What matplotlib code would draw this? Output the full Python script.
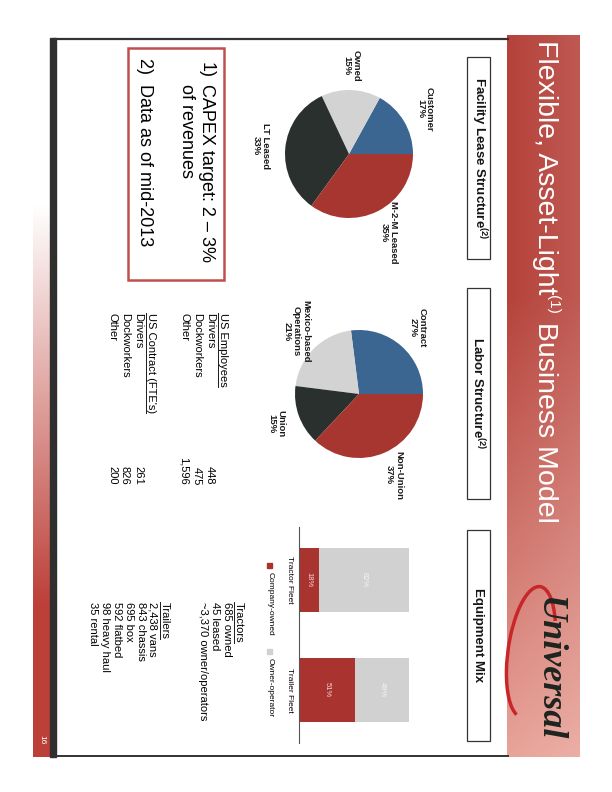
import numpy as np
import matplotlib
matplotlib.use('Agg')
import matplotlib.pyplot as plt
from matplotlib.patches import Rectangle, Arc

plt.rcParams['font.family'] = ['Liberation Sans', 'DejaVu Sans']
plt.rcParams['mathtext.fontset'] = 'custom'
plt.rcParams['mathtext.rm'] = 'Liberation Sans'
plt.rcParams['mathtext.bf'] = 'Liberation Sans:bold'
NARROW = ['Liberation Sans Narrow', 'Liberation Sans']

# ---- data ----
facility_labels = ['Customer', 'Owned', 'LT Leased', 'M-2-M Leased']
facility_pct = [17, 15, 33, 35]
labor_labels = ['Contract', 'Mexico-based\nOperations', 'Union', 'Non-Union']
labor_pct = [27, 21, 15, 37]
fleet_names = ['Tractor Fleet', 'Trailer Fleet']
company_owned = [18, 51]
owner_operator = [82, 49]
emp_rows = ['Drivers', 'Dockworkers', 'Other']
emp_counts = ['448', '475', '1,596']
contract_rows = ['Drivers', 'Dockworkers', 'Other']
contract_counts = ['261', '826', '200']
tractors = ['685 owned', '45 leased', '~3,370 owner/operators']
trailers = ['2,438 vans', '843 chassis', '695 box', '592 flatbed', '98 heavy haul', '35 rental']
notes = ['1)', '2)']
note_text = [['CAPEX target: 2 \u2013 3%', 'of revenues'], ['Data as of mid-2013']]
headers = ['Facility Lease Structure$^{\\mathbf{(2)}}$', 'Labor Structure$^{\\mathbf{(2)}}$', 'Equipment Mix']
title_parts = ['Flexible, Asset-Light', '(1)', ' Business Model']

pie_colors = ['#3b6691', '#d4d3d3', '#2a302e', '#a6362f']
red = '#a8332f'
grey = '#d2d1d1'
W, H = 612, 792

fig = plt.figure(figsize=(W / 100, H / 100), dpi=100)
fig.patch.set_facecolor('white')
ax = fig.add_axes([0, 0, 1, 1])
ax.set_facecolor('none')
ax.axis('off')


def px(x, y, w, h):
    # image pixel box (top-left origin) -> figure fraction rect
    return [x / W, (H - y - h) / H, w / W, h / H]


# title band gradient (red -> pink towards the logo)
ys = np.linspace(0, 1, 300)[:, None, None]
t = np.clip((ys * 722 - 260) / 460, 0, 1)
c0 = np.array([0.71, 0.26, 0.23])
c1 = np.array([0.91, 0.64, 0.60])
band = c0 * (1 - t) + c1 * t
band = np.repeat(band, 20, axis=1)
xs = np.linspace(0, 1, 20)[None, :, None]
band = band * (1 - 0.12 * xs) + 0.12 * xs
ax.imshow(band, extent=[507, 580, 757, 35], origin='upper', aspect='auto', zorder=1)

# left page strip gradient
t2 = np.clip((np.linspace(0, 1, 300) * 592 - 40) / 400, 0, 1)[:, None, None]
strip = np.array([1, 1, 1]) * (1 - t2) + np.array([0.74, 0.25, 0.22]) * t2
ax.imshow(strip, extent=[33, 50, 757, 165], origin='upper', aspect='auto', zorder=1)
ax.add_patch(Rectangle((50, 38), 6, 719, color='#2f2f2f', zorder=2))
ax.plot([55, 508], [39, 39], color='#333333', lw=1.6, zorder=2)
ax.plot([55, 508], [756, 756], color='#333333', lw=1.4, zorder=2)
ax.text(42, 740, '16', rotation=-90, color='white', fontsize=6, ha='center', va='center', zorder=3)
ax.set_xlim(0, W)
ax.set_ylim(H, 0)

# logo
ax.add_patch(Arc((531, 652), 46, 132, angle=8, theta1=95, theta2=300, color='#c8262a', lw=2.5, zorder=3))
ax.text(549, 596, 'Universal', rotation=-90, color='#1f2421', fontsize=26, ha='center', va='top',
        family=['Liberation Serif'], weight='bold', style='italic', zorder=4)

# section header boxes
for hdr, (y0, y1) in zip(headers, [(57, 259), (288, 499), (530, 741)]):
    ax.add_patch(Rectangle((467, y0), 23, y1 - y0, fill=False, ec='#333333', lw=0.9, zorder=3))
    ax.text(478.5, (y0 + y1) / 2, hdr, rotation=-90, fontsize=9.5, weight='bold', color='#151515',
            ha='center', va='center', family=NARROW, zorder=3)

# notes box
ax.add_patch(Rectangle((128, 48), 96, 232, fill=False, ec='#c0504d', lw=1.8, zorder=3))
ax.text(206, 62, notes[0], rotation=-90, fontsize=13, ha='center', va='top', zorder=3)
ax.text(206, 84, note_text[0][0], rotation=-90, fontsize=13, ha='center', va='top', zorder=3)
ax.text(187, 84, note_text[0][1], rotation=-90, fontsize=13, ha='center', va='top', zorder=3)
ax.text(144, 58, notes[1] + '  ' + note_text[1][0], rotation=-90, fontsize=13, ha='center', va='top', zorder=3)

# labor table
under = []
step = 13
under.append(ax.text(223, 313, 'US Employees', rotation=-90, fontsize=8, ha='center', va='top', family=NARROW))
for i, (lab, n) in enumerate(zip(emp_rows, emp_counts)):
    xx = 223 - step * (i + 1)
    ax.text(xx, 313, lab, rotation=-90, fontsize=8, ha='center', va='top', family=NARROW)
    ax.text(xx, 485, n, rotation=-90, fontsize=8, ha='center', va='bottom', family=NARROW)
under.append(ax.text(151, 313, "US Contract (FTE's)", rotation=-90, fontsize=8, ha='center', va='top', family=NARROW))
for i, (lab, n) in enumerate(zip(contract_rows, contract_counts)):
    xx = 151 - step * (i + 1)
    ax.text(xx, 313, lab, rotation=-90, fontsize=8, ha='center', va='top', family=NARROW)
    ax.text(xx, 485, n, rotation=-90, fontsize=8, ha='center', va='bottom', family=NARROW)

# equipment lists
under.append(ax.text(239, 602, 'Tractors', rotation=-90, fontsize=8, ha='center', va='top', family=NARROW))
for i, lab in enumerate(tractors):
    ax.text(239 - 12 * (i + 1), 602, lab, rotation=-90, fontsize=8, ha='center', va='top', family=NARROW)
under.append(ax.text(165, 602, 'Trailers', rotation=-90, fontsize=8, ha='center', va='top', family=NARROW))
for i, lab in enumerate(trailers):
    ax.text(165 - 12 * (i + 1), 602, lab, rotation=-90, fontsize=8, ha='center', va='top', family=NARROW)

# legend
ax.add_patch(Rectangle((267, 563), 5, 5, color=red))
ax.text(270, 572, 'Company-owned', rotation=-90, fontsize=6, ha='center', va='top', family=NARROW)
ax.add_patch(Rectangle((267, 649), 5, 5, color=grey))
ax.text(270, 658, 'Owner-operator', rotation=-90, fontsize=6, ha='center', va='top', family=NARROW)


# pies
def draw_pie(rect, names, vals):
    pa = fig.add_axes(rect)
    labels = [f'{n}\n{v}%' for n, v in zip(names, vals)]
    wedges, texts = pa.pie(vals, colors=pie_colors, startangle=0, counterclock=True,
                           labels=labels, labeldistance=1.38)
    for tx in texts:
        tx.set_rotation(-90)
        tx.set_ha('center')
        tx.set_va('center')
        tx.set_multialignment('center')
        tx.set_fontsize(6.8)
        tx.set_fontweight('bold')
        tx.set_family(NARROW)
        tx.set_color('#1a1a1a')
        tx.set_linespacing(1.0)
    pa.set_xlim(-1, 1)
    pa.set_ylim(-1, 1)
    pa.set_aspect('equal')


draw_pie(px(285, 90, 128, 128), facility_labels, facility_pct)
draw_pie(px(295, 330, 128, 128), labor_labels, labor_pct)

# equipment bars (slide columns, drawn sideways)
ba = fig.add_axes(px(299, 527, 110, 216))
pos = np.arange(len(fleet_names))
b1 = ba.barh(pos, company_owned, height=0.58, color=red)
b2 = ba.barh(pos, owner_operator, left=company_owned, height=0.58, color=grey)
ba.bar_label(b1, labels=[f'{v}%' for v in company_owned], label_type='center', rotation=-90,
             fontsize=5.5, color='#f3d6d3')
ba.bar_label(b2, labels=[f'{v}%' for v in owner_operator], label_type='center', rotation=-90,
             fontsize=5.5, color='#f4f4f4')
ba.set_xlim(0, 100)
ba.set_ylim(1.482, -0.482)
ba.set_xticks([])
ba.set_yticks(pos)
ba.set_yticklabels(fleet_names, rotation=-90, fontsize=6, family=NARROW, va='center')
ba.tick_params(axis='y', length=0, pad=4)
for s in ['top', 'right', 'bottom']:
    ba.spines[s].set_visible(False)
ba.spines['left'].set_color('#555555')
ba.set_facecolor('none')

# title pieces, superscript smaller
fig.canvas.draw()
inv = ax.transData.inverted()
r = fig.canvas.get_renderer()


def y_end(tx):
    bb = tx.get_window_extent(r)
    return inv.transform([[bb.x0, bb.y0]])[0][1]


t1 = ax.text(545, 40, title_parts[0], rotation=-90, color='white', fontsize=20.5,
             ha='center', va='top', zorder=3)
e1 = y_end(t1)
t2_ = ax.text(553, e1 + 1, title_parts[1], rotation=-90, color='white', fontsize=11,
              ha='center', va='top', zorder=3)
e2 = y_end(t2_)
ax.text(545, e2, title_parts[2], rotation=-90, color='white', fontsize=20.5,
        ha='center', va='top', zorder=3)

# underline headings (left side of the rotated text)
for tx in under:
    bb = tx.get_window_extent(r)
    (x0, y0), (x1, y1) = inv.transform([[bb.x0, bb.y0], [bb.x1, bb.y1]])
    ax.plot([x0 - 0.5, x0 - 0.5], [y0, y1], color='#1a1a1a', lw=0.7)

fig.savefig('out.png', dpi=100, facecolor='white')
